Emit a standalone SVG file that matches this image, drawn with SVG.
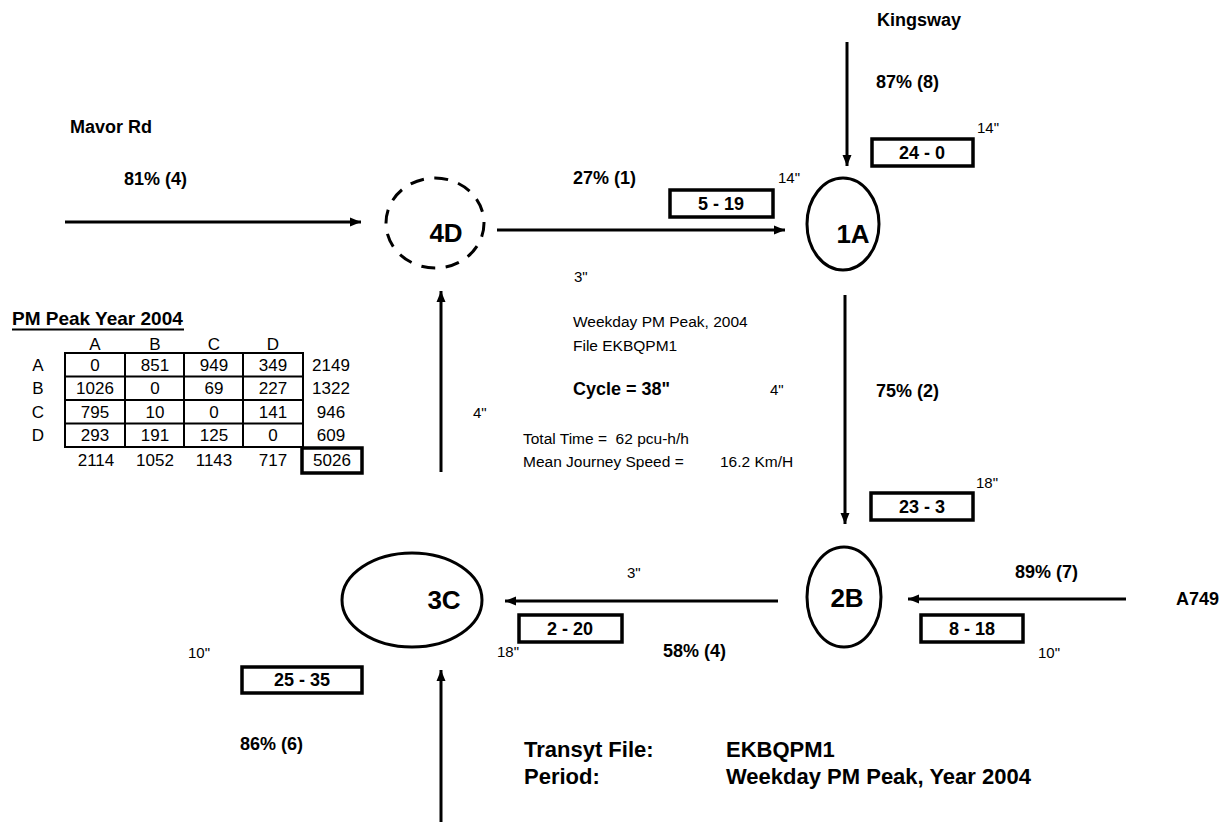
<svg xmlns="http://www.w3.org/2000/svg" width="1230" height="822" viewBox="0 0 1230 822">
<defs>
<marker id="ah" markerUnits="userSpaceOnUse" markerWidth="12" markerHeight="10" refX="11" refY="5" orient="auto">
<path d="M0,0.5 L11,5 L0,9.5 z" fill="#000"/>
</marker>
<style>
text{font-family:"Liberation Sans",Arial,sans-serif;fill:#000}
.b{font-weight:bold;font-size:18px}
.s{font-size:15px}
.m{font-size:15.5px}
.n{font-weight:bold;font-size:26px}
.t{font-size:17px}
.f{font-weight:bold;font-size:22px}
.c{text-anchor:middle}
.con{stroke:#000;stroke-width:3;fill:none;marker-end:url(#ah)}
.node{fill:none;stroke:#000;stroke-width:3}
.box{fill:none;stroke:#000;stroke-width:3.5}
.grid{fill:none;stroke:#000;stroke-width:2}
</style>
</defs>
<rect width="1230" height="822" fill="#fff"/>

<g id="connectors">
<line class="con" x1="847" y1="42" x2="847" y2="166"/>
<line class="con" x1="65" y1="222" x2="361" y2="222"/>
<line class="con" x1="497" y1="230" x2="785" y2="230"/>
<line class="con" x1="845" y1="295" x2="845" y2="524"/>
<line class="con" x1="1126" y1="599" x2="908" y2="599"/>
<line class="con" x1="778" y1="601" x2="505" y2="601"/>
<line class="con" x1="441" y1="472" x2="441" y2="291"/>
<line class="con" x1="441" y1="822" x2="441" y2="670"/>
</g>

<g id="node-4D">
<ellipse class="node" cx="435" cy="223" rx="49" ry="45" stroke-dasharray="14 10.5"/>
<text class="n c" x="446" y="242">4D</text>
</g>
<g id="node-1A">
<ellipse class="node" cx="843" cy="224" rx="36" ry="46"/>
<text class="n c" x="853" y="243">1A</text>
</g>
<g id="node-2B">
<ellipse class="node" cx="844" cy="597" rx="37" ry="50"/>
<text class="n c" x="847" y="607">2B</text>
</g>
<g id="node-3C">
<ellipse class="node" cx="412" cy="600" rx="70" ry="47"/>
<text class="n c" x="444" y="609">3C</text>
</g>

<g id="boxes">
<rect class="box" x="872" y="139" width="101" height="27"/>
<text class="b c" x="922" y="159">24 - 0</text>
<rect class="box" x="670" y="190" width="103" height="27"/>
<text class="b c" x="721" y="210">5 - 19</text>
<rect class="box" x="871" y="493" width="102" height="27"/>
<text class="b c" x="922" y="513">23 - 3</text>
<rect class="box" x="921" y="615" width="102" height="27"/>
<text class="b c" x="972" y="635">8 - 18</text>
<rect class="box" x="519" y="615" width="103" height="27"/>
<text class="b c" x="570" y="635">2 - 20</text>
<rect class="box" x="242" y="667" width="120" height="26"/>
<text class="b c" x="302" y="686">25 - 35</text>
</g>

<g id="labels">
<text class="b" x="877" y="26">Kingsway</text>
<text class="b" x="70" y="133">Mavor Rd</text>
<text class="b" x="1176" y="605">A749</text>
<text class="b" x="876" y="88">87% (8)</text>
<text class="b" x="124" y="185">81% (4)</text>
<text class="b" x="573" y="184">27% (1)</text>
<text class="b" x="876" y="397">75% (2)</text>
<text class="b" x="1015" y="578">89% (7)</text>
<text class="b" x="663" y="657">58% (4)</text>
<text class="b" x="240" y="750">86% (6)</text>
<text class="s" x="977" y="133">14"</text>
<text class="s" x="778" y="183">14"</text>
<text class="s" x="574" y="282">3"</text>
<text class="s" x="770" y="395">4"</text>
<text class="s" x="473" y="418">4"</text>
<text class="s" x="976" y="488">18"</text>
<text class="s" x="627" y="578">3"</text>
<text class="s" x="497" y="657">18"</text>
<text class="s" x="1038" y="658">10"</text>
<text class="s" x="188" y="658">10"</text>
</g>

<g id="info">
<text class="m" x="573" y="327">Weekday PM Peak, 2004</text>
<text class="m" x="573" y="351">File EKBQPM1</text>
<text class="b" x="573" y="395">Cycle = 38"</text>
<text class="m" x="523" y="444" xml:space="preserve">Total Time =  62 pcu-h/h</text>
<text class="m" x="523" y="467">Mean Journey Speed =</text>
<text class="m" x="720" y="467">16.2 Km/H</text>
<text class="f" x="524" y="757">Transyt File:</text>
<text class="f" x="726" y="757">EKBQPM1</text>
<text class="f" x="524" y="784">Period:</text>
<text class="f" x="726" y="784">Weekday PM Peak, Year 2004</text>
</g>

<g id="od-table">
<text class="b" x="12" y="325" style="font-size:19px">PM Peak Year 2004</text>
<line x1="12" y1="329.5" x2="184" y2="329.5" stroke="#000" stroke-width="2"/>
<g class="t c">
<text x="95" y="350">A</text><text x="155" y="350">B</text><text x="214" y="350">C</text><text x="273" y="350">D</text>
<text x="38" y="371">A</text><text x="38" y="394">B</text><text x="38" y="418">C</text><text x="38" y="441">D</text>
<text x="95" y="371">0</text><text x="155" y="371">851</text><text x="214" y="371">949</text><text x="273" y="371">349</text><text x="331" y="371">2149</text>
<text x="95" y="394">1026</text><text x="155" y="394">0</text><text x="214" y="394">69</text><text x="273" y="394">227</text><text x="331" y="394">1322</text>
<text x="95" y="418">795</text><text x="155" y="418">10</text><text x="214" y="418">0</text><text x="273" y="418">141</text><text x="331" y="418">946</text>
<text x="95" y="441">293</text><text x="155" y="441">191</text><text x="214" y="441">125</text><text x="273" y="441">0</text><text x="331" y="441">609</text>
<text x="96" y="466">2114</text><text x="155" y="466">1052</text><text x="214" y="466">1143</text><text x="273" y="466">717</text><text x="332" y="466">5026</text>
</g>
<rect class="grid" x="65" y="353" width="238" height="94"/>
<path class="grid" d="M125,353V447M184,353V447M243,353V447M65,376.5H303M65,400H303M65,423.5H303"/>
<rect x="302" y="448" width="60" height="25" fill="none" stroke="#000" stroke-width="3.5"/>
</g>
</svg>
